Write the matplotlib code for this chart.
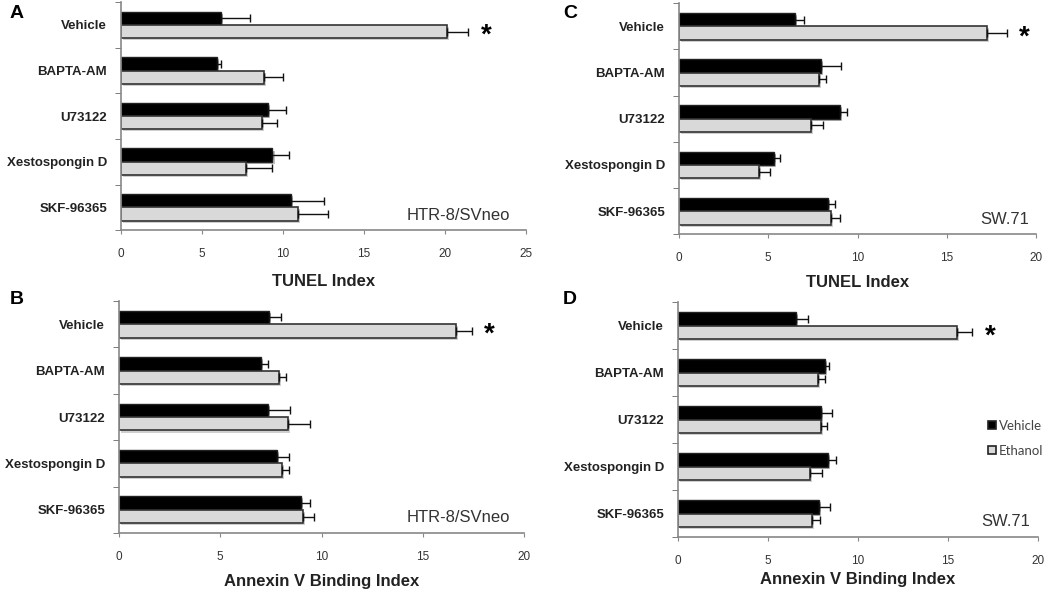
import numpy as np
import matplotlib.pyplot as plt
import matplotlib.patheffects as pe
from matplotlib.patches import Rectangle

plt.rcParams['font.family'] = ['Liberation Sans', 'DejaVu Sans']

treatments = ['Vehicle', 'BAPTA-AM', 'U73122', 'Xestospongin D', 'SKF-96365']

# panel A: HTR-8/SVneo, TUNEL
a_veh = [6.2, 5.9, 9.1, 9.35, 10.5]
a_veh_err = [1.75, 0.3, 1.1, 1.0, 2.05]
a_eth = [20.1, 8.85, 8.7, 7.7, 10.95]
a_eth_err = [1.35, 1.15, 0.95, 1.6, 1.8]

# panel C: SW.71, TUNEL
c_veh = [6.5, 7.95, 9.0, 5.3, 8.35]
c_veh_err = [0.5, 1.1, 0.4, 0.35, 0.4]
c_eth = [17.25, 7.85, 7.4, 4.5, 8.5]
c_eth_err = [1.1, 0.4, 0.65, 0.6, 0.5]

# panel B: HTR-8/SVneo, Annexin V
b_veh = [7.4, 7.0, 7.35, 7.8, 9.0]
b_veh_err = [0.6, 0.35, 1.1, 0.6, 0.45]
b_eth = [16.65, 7.9, 8.35, 8.05, 9.1]
b_eth_err = [0.75, 0.35, 1.1, 0.35, 0.5]

# panel D: SW.71, Annexin V
d_veh = [6.55, 8.15, 7.95, 8.35, 7.85]
d_veh_err = [0.65, 0.25, 0.6, 0.45, 0.6]
d_eth = [15.5, 7.75, 7.95, 7.35, 7.45]
d_eth_err = [0.85, 0.4, 0.35, 0.65, 0.45]

shadow = [pe.SimplePatchShadow(offset=(1.5, -1.5), alpha=0.25), pe.Normal()]


def panel(ax, veh, veh_err, eth, eth_err, xmax, xlabel, cell, cell_x, lpad):
    y = np.arange(len(treatments))
    h = 0.29
    ekw = dict(ecolor='#111111', elinewidth=1, capsize=3, capthick=1)
    b1 = ax.barh(y - 0.145, veh, height=h, color='black', edgecolor='#222222', lw=1.0,
                 xerr=[np.zeros(5), veh_err], error_kw=ekw)
    b2 = ax.barh(y + 0.145, eth, height=h, color='#d9d9d9', edgecolor='#333333', lw=1.2,
                 xerr=[np.zeros(5), eth_err], error_kw=ekw)
    for p in list(b1) + list(b2):
        p.set_path_effects(shadow)
    ax.set_ylim(4.5, -0.5)
    ax.set_xlim(0, xmax)
    ax.set_yticks(y)
    ax.set_yticklabels(treatments, fontsize=9.5, fontweight='bold', color='#222222')
    ax.set_yticks(np.arange(-0.5, 5, 1), minor=True)
    ax.tick_params(axis='y', which='major', length=0, pad=10)
    ax.tick_params(axis='y', which='minor', length=4, color='#666666')
    ax.set_xticks(np.arange(0, xmax + 1, 5))
    ax.tick_params(axis='x', length=3, color='#888888', labelsize=8.5, labelcolor='#333333', pad=10)
    ax.set_xlabel(xlabel, fontsize=12, fontweight='bold', color='#222222', labelpad=lpad)
    for s in ['top', 'right']:
        ax.spines[s].set_visible(False)
    for s in ['left', 'bottom']:
        ax.spines[s].set_color('#888888')
        ax.spines[s].set_linewidth(1.2)
    ax.text(cell_x, 0.065, cell, transform=ax.transAxes, ha='right', va='center',
            fontsize=12, color='#333333')
    # significance marker next to the ethanol vehicle bar
    ax.annotate('*', xy=(eth[0] + eth_err[0], 0.145), xytext=(13, -3), textcoords='offset points',
                ha='center', va='center', fontsize=20, fontweight='bold')


fig = plt.figure(figsize=(10.5, 5.9), dpi=100)
axA = fig.add_axes([0.1152, 0.610, 0.3857, 0.3864])
axC = fig.add_axes([0.6467, 0.603, 0.3400, 0.3915])
axB = fig.add_axes([0.1133, 0.0966, 0.3860, 0.3932])
axD = fig.add_axes([0.6457, 0.0898, 0.3429, 0.3983])

panel(axA, a_veh, a_veh_err, a_eth, a_eth_err, 25, 'TUNEL Index', 'HTR-8/SVneo', 0.96, 10)
panel(axC, c_veh, c_veh_err, c_eth, c_eth_err, 20, 'TUNEL Index', 'SW.71', 0.982, 8)
panel(axB, b_veh, b_veh_err, b_eth, b_eth_err, 20, 'Annexin V Binding Index', 'HTR-8/SVneo', 0.964, 8)
panel(axD, d_veh, d_veh_err, d_eth, d_eth_err, 20, 'Annexin V Binding Index', 'SW.71', 0.978, 3.5)

for lab, x, y in [('A', 17, 13), ('C', 570, 13), ('B', 17, 299), ('D', 570, 299)]:
    fig.text(x / 1050, 1 - y / 590, lab, fontsize=14, fontweight='bold', ha='center', va='center')

# legend in panel D
for yc, fc in [(425, 'black'), (450, '#d9d9d9')]:
    fig.patches.append(Rectangle(((992 - 4) / 1050, 1 - (yc + 4) / 590), 8 / 1050, 8 / 590,
                                 transform=fig.transFigure, facecolor=fc, edgecolor='#222222', lw=1.2))
fig.text(999 / 1050, 1 - 426 / 590, 'Vehicle', fontsize=9.5, ha='left', va='center', color='#444444',
         family=['Lato', 'DejaVu Sans'])
fig.text(999 / 1050, 1 - 451 / 590, 'Ethanol', fontsize=9.5, ha='left', va='center', color='#444444',
         family=['Lato', 'DejaVu Sans'])

fig.savefig('out.png', dpi=100)
